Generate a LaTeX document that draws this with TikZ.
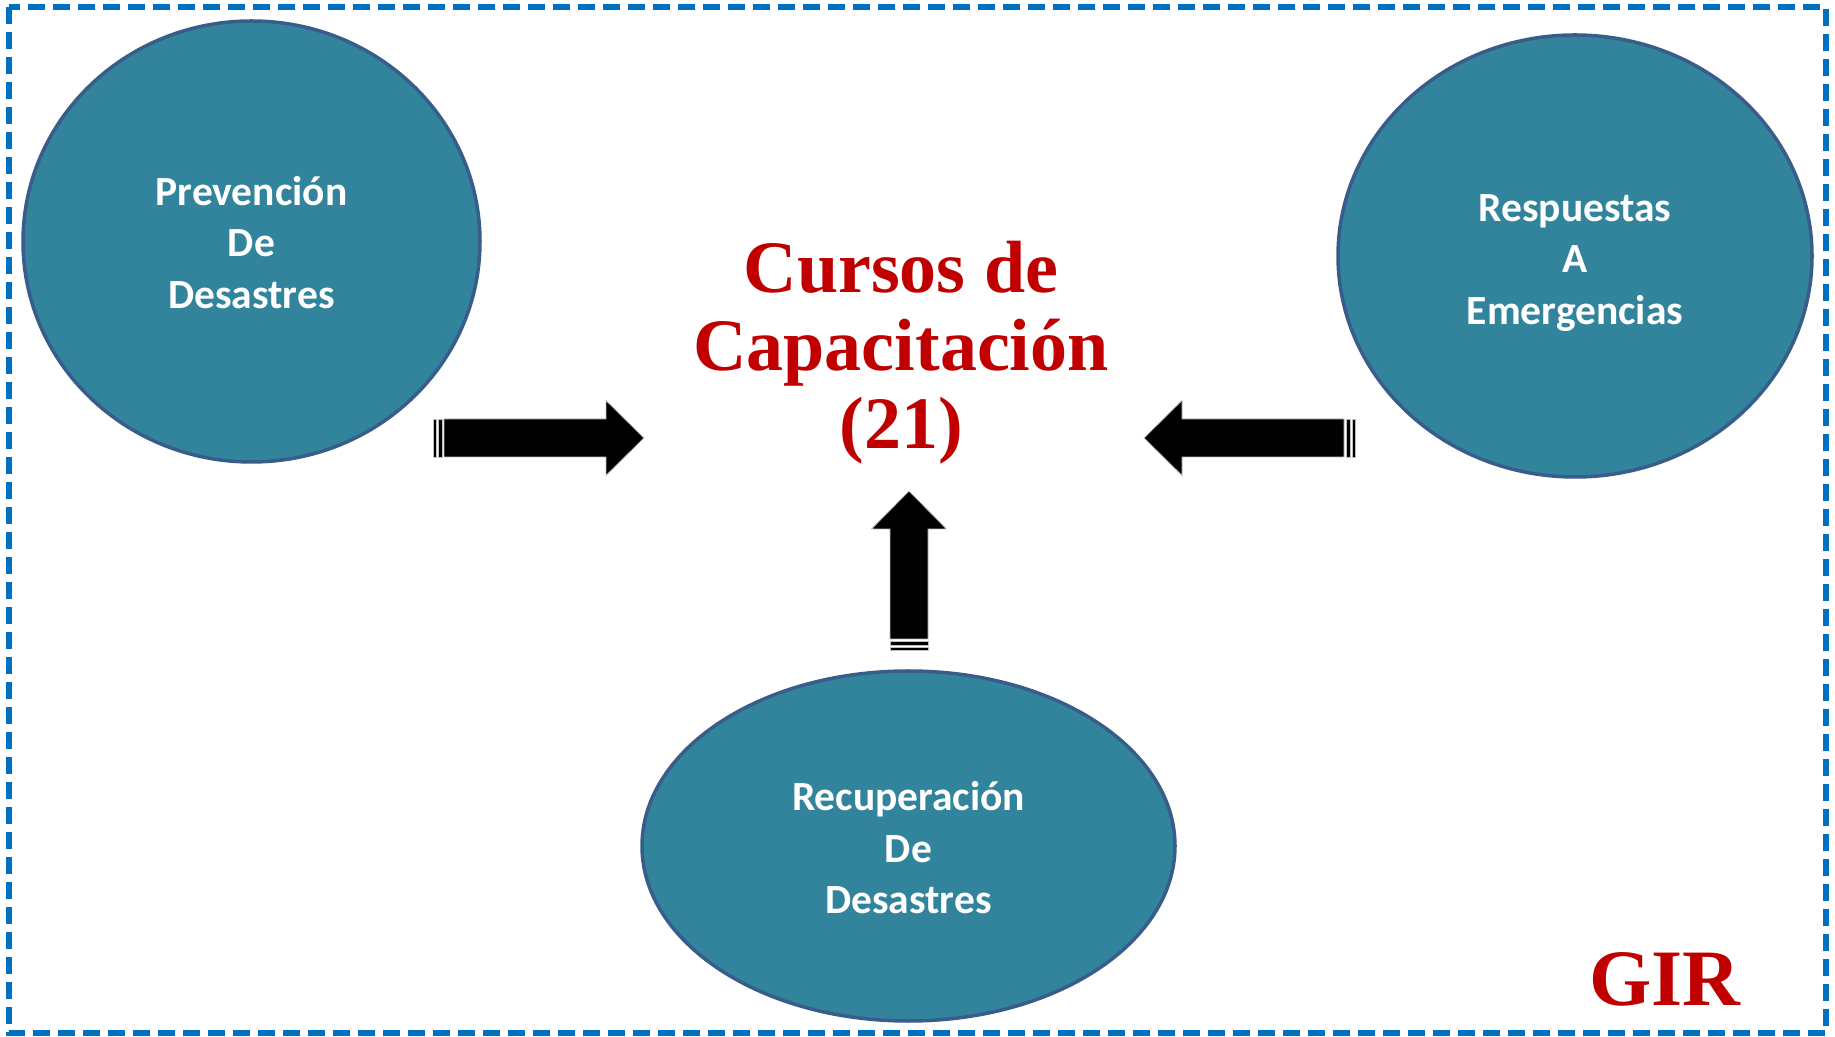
\documentclass[tikz,border=0pt]{standalone}
\usepackage{fontspec}
\setmainfont{Liberation Serif}
\newfontfamily\carlito{Carlito}
\usepackage{xcolor}
\usepackage{tikz}
\usetikzlibrary{shapes,arrows,positioning,calc}
\definecolor{dashblue}{RGB}{0,112,192}
\definecolor{tealfill}{RGB}{49,132,155}
\definecolor{slateline}{RGB}{56,93,138}
\definecolor{darkred}{RGB}{192,0,0}

% block arrow: tail point, angle, length of the body
\newcommand{\blockarrow}[3]{%
  \begin{scope}[shift={(#1)}, rotate=#2]
    \filldraw[black, draw=gray!50, line width=0.8pt] (0,-19) rectangle (3,19);
    \filldraw[black, draw=gray!50, line width=0.8pt] (5,-19) rectangle (9,19);
    \filldraw[black, draw=gray!50, line width=0.8pt] (11,-19) -- (#3,-19) -- (#3,-37.5) -- ({#3+38},0) -- (#3,37.5) -- (#3,19) -- (11,19) -- cycle;
  \end{scope}}

\tikzset{
  bubble/.style={ellipse, draw=slateline, line width=3.5pt, fill=tealfill, inner sep=0pt},
  bubbletext/.style={text=white, align=center, font=\carlito\bfseries\fontsize{41.5}{51.5}\selectfont},
  bigred/.style={text=darkred, align=center, font=\bfseries\fontsize{74}{78}\selectfont}
}

\begin{document}
\begin{tikzpicture}[x=1pt, y=1pt]
    \useasboundingbox (0,0) rectangle (1835,1036);
    % Dashed frame
    \draw[dashblue, line width=5.5pt, dash pattern=on 17pt off 8pt] (9,1029) rectangle (1826,3);

    % Three phases
    \node[bubble, minimum width=457, minimum height=441] (prev) at (251.5,794.5) {};
    \node[bubble, minimum width=474, minimum height=442] (resp) at (1575,780) {};
    \node[bubble, minimum width=533, minimum height=350] (recu) at (908.5,190) {};
    \node[bubbletext] (prevtext) at ($(prev.center)+(0,-1)$) {Prevención\\De\\Desastres};
    \node[bubbletext] (resptext) at ($(resp.center)+(0,-7)$) {Respuestas\\A\\Emergencias};
    \node[bubbletext] (recutext) at ($(recu.center)+(0,-2)$) {Recuperación\\De\\Desastres};

    % Title
    \node[bigred] (cursos) at (901,683) {Cursos de\\Capacitación\\(21)};

    % Arrows
    \coordinate (prevtail) at (433,598);
    \coordinate (resptail) at (1355,598);
    \coordinate (recutail) at (909,386);
    \blockarrow{prevtail}{0}{173}
    \blockarrow{resptail}{180}{173}
    \blockarrow{recutail}{90}{121}

    % Label
    \node[text=darkred, font=\bfseries\fontsize{80}{80}\selectfont] (gir) at (1665,57) {GIR};
\end{tikzpicture}
\end{document}
